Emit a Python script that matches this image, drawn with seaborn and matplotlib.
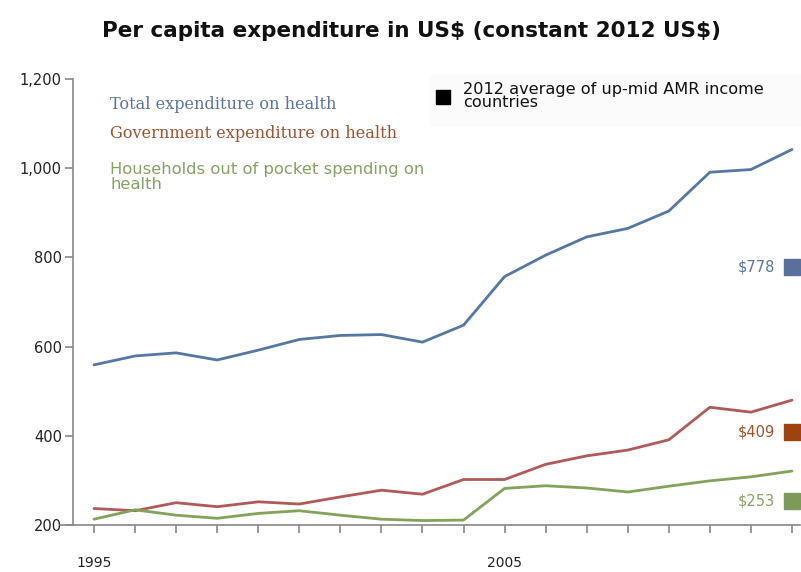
import matplotlib
matplotlib.use("Agg")
import matplotlib.pyplot as plt
import seaborn as sns
import pandas as pd

years = list(range(1995, 2013))
total_exp = [559, 579, 586, 570, 592, 616, 625, 627, 610, 648,
             757, 805, 846, 865, 904, 991, 997, 1042]
gov_exp = [237, 232, 250, 241, 252, 247, 263, 278, 269, 302,
           302, 336, 355, 368, 391, 464, 453, 480]
oop_exp = [213, 234, 222, 215, 226, 232, 222, 213, 210, 211,
           282, 288, 283, 274, 287, 299, 308, 321]

series_names = ["Total expenditure on health",
                "Government expenditure on health",
                "Households out of pocket spending on\nhealth"]
avg_2012 = [778, 409, 253]
avg_labels = ["\\$778", "\\$409", "\\$253"]

line_colors = ["#5577a3", "#b05a5a", "#83a35a"]
text_colors = ["#5a74a0", "#a0522d", "#86a264"]
square_colors = ["#5b6f9b", "#9c4310", "#7d9a5a"]

df = pd.DataFrame({
    "year": years * 3,
    "value": total_exp + gov_exp + oop_exp,
    "series": [series_names[0]] * 18 + [series_names[1]] * 18 + [series_names[2]] * 18,
})

sns.set_theme(style="white")
plt.rcParams["font.family"] = ["DejaVu Sans"]

fig = plt.figure(figsize=(8.01, 5.72), dpi=100)
ax = fig.add_axes([73 / 801, 47 / 572, 727 / 801, 446 / 572])

sns.lineplot(data=df, x="year", y="value", hue="series", palette=line_colors,
             linewidth=2.0, legend=False, ax=ax)

ax.set_xlim(1995 - 21 / 41.06, 2012 + 8 / 41.06)
ax.set_ylim(200, 1200)
ax.set_xlabel("")
ax.set_ylabel("")

ax.set_yticks([200, 400, 600, 800, 1000, 1200])
ax.set_yticklabels(["200", "400", "600", "800", "1,000", "1,200"],
                   fontsize=10.5, color="#222222")
ax.set_xticks(years)
ax.set_xticklabels(["1995" if y == 1995 else "2005" if y == 2005 else "" for y in years],
                   fontsize=10, color="#222222")

ax.tick_params(axis="both", which="both", length=6, width=1.2, color="#888888",
               left=True, bottom=True)
ax.tick_params(axis="x", pad=16)
ax.tick_params(axis="y", pad=2)

for side in ["top", "right"]:
    ax.spines[side].set_visible(False)
for side in ["left", "bottom"]:
    ax.spines[side].set_color("#888888")
    ax.spines[side].set_linewidth(1.2)

# bottom axis line runs slightly past the y axis
ax.plot([-13 / 727, 0], [0, 0], transform=ax.transAxes, color="#888888",
        lw=1.2, clip_on=False)

# 2012 regional averages
for val, lab, sc, tc in zip(avg_2012, avg_labels, square_colors, text_colors):
    ax.scatter([2012], [val], marker="s", s=120, color=sc, zorder=4, clip_on=False)
    ax.annotate(lab, xy=(2012, val), xytext=(-12, 0), textcoords="offset points",
                ha="right", va="center", fontsize=10.5, color=tc)

# series legend
fig.text(110 / 801, 1 - 104 / 572, series_names[0], family="DejaVu Serif",
         fontsize=11.6, color=text_colors[0], va="center")
fig.text(110 / 801, 1 - 133 / 572, series_names[1], family="DejaVu Serif",
         fontsize=11.6, color=text_colors[1], va="center")
fig.text(110 / 801, 1 - 177 / 572, series_names[2], fontsize=11.8,
         color=text_colors[2], va="center", linespacing=1.0)

# average marker legend
fig.patches.append(plt.Rectangle((430 / 801, 1 - 125 / 572), 370 / 801, 50 / 572,
                                 transform=fig.transFigure, color="#fbfbfb", zorder=0))
fig.patches.append(plt.Rectangle((436 / 801, 1 - 104 / 572), 14 / 801, 14 / 572,
                                 transform=fig.transFigure, color="black", zorder=2))
fig.text(463 / 801, 1 - 96 / 572, "2012 average of up-mid AMR income\ncountries",
         fontsize=11.6, color="#111111", va="center", linespacing=0.85)

fig.text(411 / 801, 1 - 31 / 572, "Per capita expenditure in US\\$ (constant 2012 US\\$)",
         fontweight="bold", fontsize=15.5, color="#111111",
         ha="center", va="center")

fig.savefig("out.png", dpi=100)
